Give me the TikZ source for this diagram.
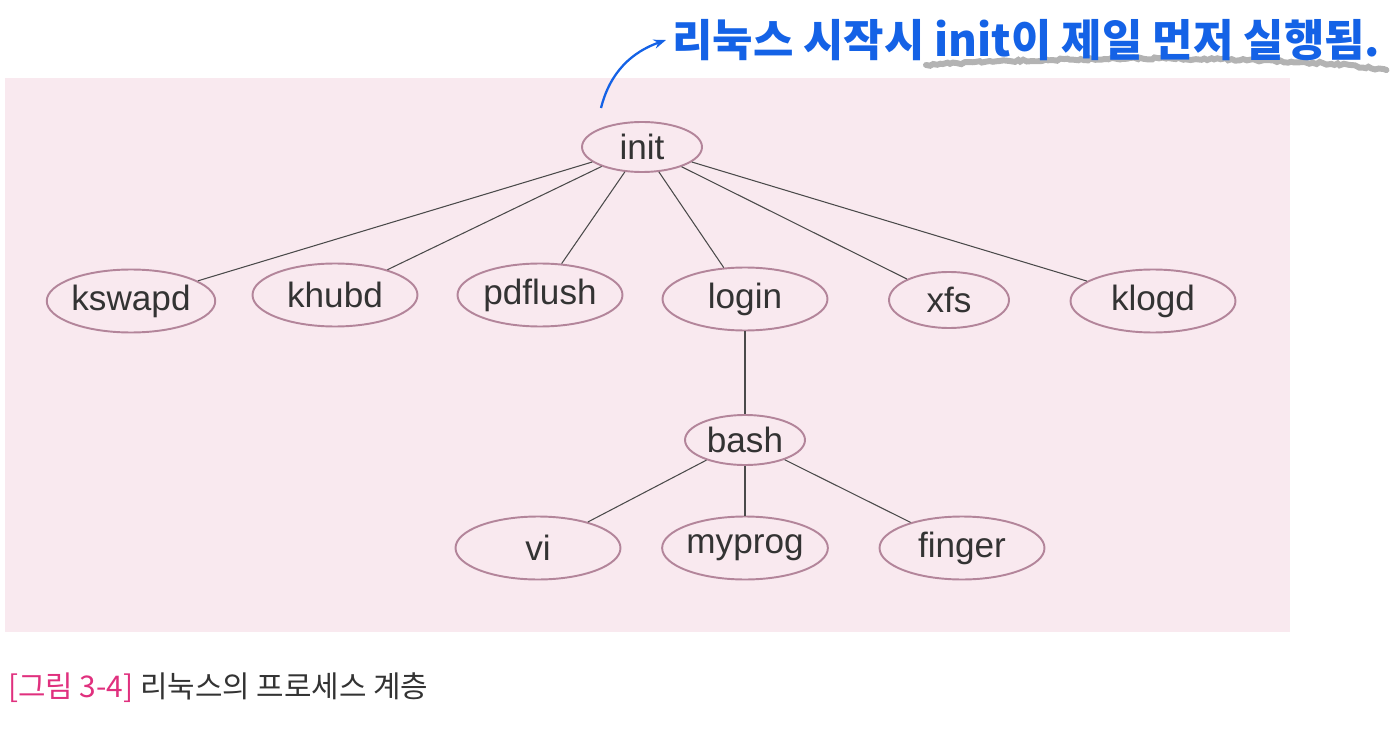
\documentclass[tikz,border=0pt]{standalone}
\usepackage{fontspec}
\usepackage{xcolor}
\setmainfont{Liberation Sans}
\newfontfamily\kr{Noto Sans CJK KR}
\usepackage{tikz}
\usetikzlibrary{shapes.geometric,arrows.meta,positioning,calc,decorations.pathmorphing}
\definecolor{bgpink}{HTML}{F9E9EF}
\definecolor{procline}{HTML}{B3859A}
\definecolor{linegray}{HTML}{4A4A4A}
\definecolor{txtgray}{HTML}{333333}
\definecolor{noteblue}{HTML}{1462E6}
\definecolor{capmag}{HTML}{E0307E}

\begin{document}
\begin{tikzpicture}[x=0.02cm, y=-0.02cm,
  proc/.style={ellipse, draw=procline, line width=1.1pt, fill=bgpink, inner sep=0pt,
    minimum width=3.3cm, minimum height=1.26cm, text=txtgray,
    font=\fontsize{20}{22}\selectfont},
  procsmall/.style={proc, minimum width=2.4cm, minimum height=1.0cm},
  link/.style={draw=linegray, line width=0.6pt}]
  \useasboundingbox (0,0) rectangle (1396,753);
  \fill[bgpink] (5,78) rectangle (1290,632);

  % process tree
  \node[procsmall] (init) at (642,147) {init};
  \node[proc] (kswapd) at (131,301) {kswapd};
  \node[proc] (khubd) at (335,295) {khubd};
  \node[proc] (pdflush) at (540,295) {pdflush};
  \node[proc] (login) at (745,299) {login};
  \node[procsmall, minimum height=1.12cm] (xfs) at (949,300) {xfs};
  \node[proc] (klogd) at (1153,301) {klogd};
  \node[procsmall] (bash) at (745,440) {bash};
  \node[proc] (vi) at (538,548) {vi};
  \node[proc] (myprog) at (745,548) {myprog};
  \node[proc] (finger) at (962,548) {finger};

  \foreach \c in {kswapd,khubd,pdflush,login,xfs,klogd}
    \draw[link] (init) -- (\c);
  \draw[link] (login) -- (bash);
  \foreach \c in {vi,myprog,finger}
    \draw[link] (bash) -- (\c);

  % handwritten note
  \draw[gray, line width=3.4pt, opacity=0.6, line cap=round,
    decorate, decoration={random steps, segment length=2pt, amplitude=0.7pt}]
    (926,65) .. controls (1100,55) and (1310,57) .. (1386,70);
  \node[anchor=west, text=noteblue, font=\kr\bfseries\fontsize{25}{27}\selectfont]
    (note) at (666,40) {리눅스 시작시 init이 제일 먼저 실행됨.};
  \coordinate (tail) at (601,108);
  \draw[noteblue, line width=1.3pt, -{Stealth[length=7pt]}]
    (tail) .. controls (610,72) and (632,52) .. (note.west);

  % caption
  \node[anchor=west, text=txtgray, font=\kr\fontsize{17}{19}\selectfont]
    (caption) at (2,688) {\textcolor{capmag}{[그림 3-4]} 리눅스의 프로세스 계층};
\end{tikzpicture}
\end{document}
